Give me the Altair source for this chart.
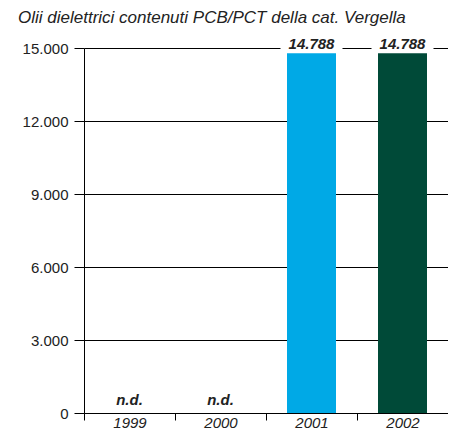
import altair as alt
import pandas as pd

years = ["1999", "2000", "2001", "2002"]
values = [None, None, 14788, 14788]
labels = ["n.d.", "n.d.", "14.788", "14.788"]
bar_colors = ["#00A9E6", "#004A38"]
y_ticks = [0, 3000, 6000, 9000, 12000, 15000]
title = "Olii dielettrici contenuti PCB/PCT della cat. Vergella"

df = pd.DataFrame({"year": years, "value": values, "label": labels})
df["labelpos"] = df["value"].fillna(0)

FONT = "Liberation Sans"
TXT = "#222222"

y_scale = alt.Scale(domain=[0, 15000], nice=False)
x_sort = years

base = alt.Chart(df)

bars = base.transform_filter("isValid(datum.value)").mark_bar(size=49).encode(
    x=alt.X(
        "year:N",
        sort=x_sort,
        title=None,
        scale=alt.Scale(domain=years, paddingInner=0, paddingOuter=0),
        axis=alt.Axis(tickBand="extent", grid=False, labelAngle=0,
                      tickSize=7, labelPadding=-5, labelFontStyle="italic"),
    ),
    y=alt.Y(
        "value:Q",
        scale=y_scale,
        title=None,
        axis=alt.Axis(
            values=y_ticks,
            labelExpr="replace(format(datum.value, ','), ',', '.')",
            tickSize=10,
            labelPadding=6,
            grid=True,
        ),
    ),
    color=alt.Color(
        "year:N",
        scale=alt.Scale(domain=["2001", "2002"], range=bar_colors),
        legend=None,
    ),
)

masks = base.transform_filter("isValid(datum.value)").mark_bar(
    size=62, color="white"
).encode(
    x=alt.X("year:N", sort=x_sort),
    y=alt.value(-13),
    y2=alt.value(2),
)

top_labels = base.transform_filter("isValid(datum.value)").mark_text(
    font=FONT, fontSize=15, fontStyle="italic", fontWeight="bold",
    color=TXT, baseline="alphabetic", dy=-4,
).encode(
    x=alt.X("year:N", sort=x_sort),
    y=alt.Y("labelpos:Q", scale=y_scale),
    text="label:N",
)

nd_labels = base.transform_filter("!isValid(datum.value)").mark_text(
    font=FONT, fontSize=15, fontStyle="italic", fontWeight="bold",
    color=TXT, baseline="alphabetic", dy=-8,
).encode(
    x=alt.X("year:N", sort=x_sort),
    y=alt.Y("labelpos:Q", scale=y_scale),
    text="label:N",
)

chart = (
    alt.layer(bars, masks, top_labels, nd_labels)
    .properties(
        width=364,
        height=365,
        title=alt.TitleParams(
            title,
            anchor="start",
            frame="group",
            dx=-66,
            offset=8,
            font=FONT,
            fontSize=17,
            fontStyle="italic",
            fontWeight="normal",
            color=TXT,
        ),
        autosize=alt.AutoSizeParams(type="none"),
        padding={"left": 76, "top": 40, "right": 0, "bottom": 16},
    )
    .configure_view(stroke=None)
    .configure_axis(
        domainColor="black",
        domainWidth=1,
        tickColor="black",
        tickWidth=1,
        gridColor="black",
        gridWidth=1,
        labelFont=FONT,
        labelFontSize=15,
        labelColor=TXT,
    )
)

chart.save("out.html", embed_options={"renderer": "svg", "actions": False})
